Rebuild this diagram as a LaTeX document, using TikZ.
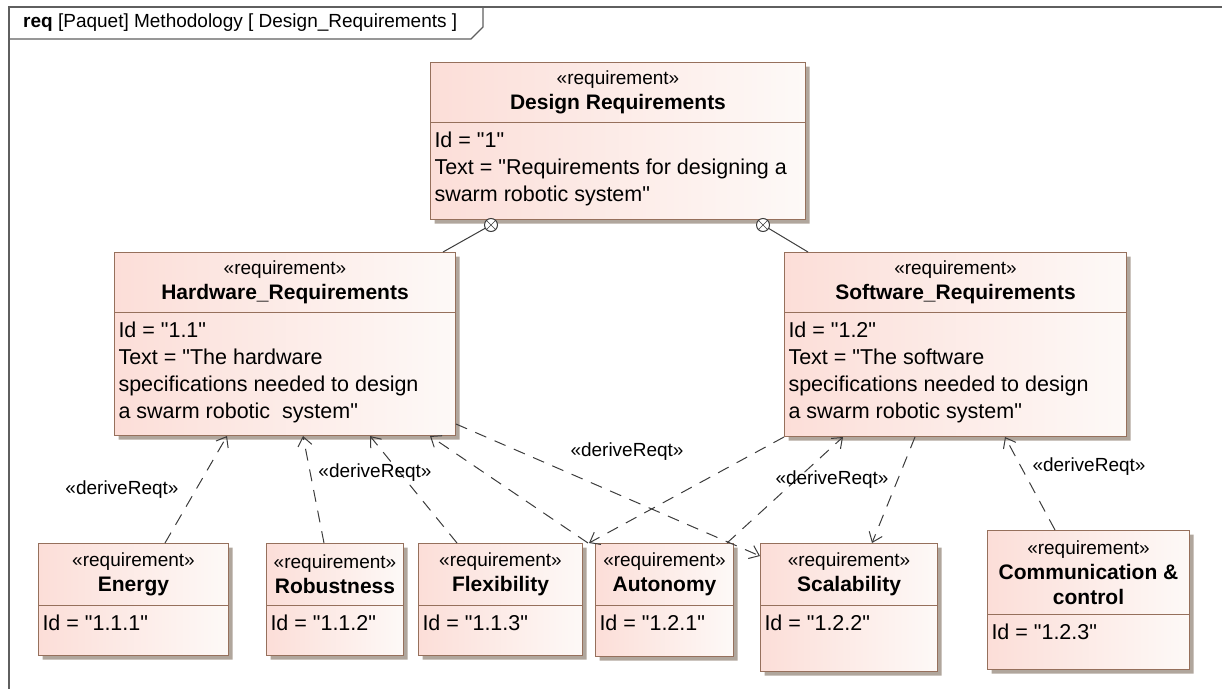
\documentclass[tikz,border=0pt]{standalone}
\usepackage{fontspec}
\setmainfont{Liberation Sans}[Ligatures=TeXOff]
\usetikzlibrary{shapes,shadows,arrows.meta}

\definecolor{reqpink}{RGB}{252,222,216}
\definecolor{reqwhite}{RGB}{253,249,247}
\definecolor{reqedge}{RGB}{150,112,92}
\definecolor{reqshadow}{RGB}{176,166,156}
\definecolor{lineg}{RGB}{60,60,60}
\definecolor{frameg}{RGB}{95,95,95}

% header part: width, height, name
\newcommand{\reqhead}[3]{\parbox[c][#2][c]{#1}{\centering\fontsize{19}{25}\selectfont «requirement»\\\fontsize{21}{25}\selectfont\bfseries #3}}
% body part: width, height, lines
\newcommand{\reqbody}[3]{\parbox[c][#2][t]{#1}{\vspace*{9pt}\raggedright\leftskip=4pt\fontsize{21.5}{27}\selectfont #3}}

\begin{document}
\begin{tikzpicture}[x=1pt,y=-1pt,>={Straight Barb[length=9pt,width=14pt]}]
\tikzstyle{req}=[
  rectangle split,
  rectangle split parts=2,
  draw=reqedge, line width=1pt,
  inner sep=0pt, anchor=north west,
  left color=reqpink, right color=reqwhite,
  drop shadow={shadow xshift=4pt, shadow yshift=-4pt, fill=reqshadow, opacity=1} ]
\tikzstyle{derive}=[draw=lineg, line width=1pt, dash pattern=on 12pt off 9pt, ->]
\tikzstyle{lbl}=[inner sep=0pt, font=\fontsize{19}{19}\selectfont]
\tikzstyle{contain}=[circle, draw=lineg, line width=1pt, fill=white, inner sep=0pt, minimum size=13pt]
\useasboundingbox (0,0) rectangle (1222,688);

% frame
\draw[frameg, line width=1.5pt] (9,700) -- (9,7) -- (1230,7);
\draw[frameg, line width=1.2pt] (9,39) -- (471,39) -- (483,27) -- (483,7);
\node[anchor=west, inner sep=0pt, font=\fontsize{19}{19}\selectfont] (title) at (23,23)
  {\textbf{req} [Paquet] Methodology [ Design\_Requirements ]};

% requirements
\node[req] (dsgn) at (430,62) {\reqhead{375pt}{59pt}{Design Requirements}\nodepart{two}\reqbody{375pt}{96pt}{Id = "1"\\Text = "Requirements for designing a\\swarm robotic system"}};
\node[req] (hw) at (114,252) {\reqhead{341pt}{59pt}{Hardware\_Requirements}\nodepart{two}\reqbody{341pt}{122pt}{Id = "1.1"\\Text = "The hardware\\specifications needed to design\\a swarm robotic\ \ system"}};
\node[req] (sw) at (784,252) {\reqhead{342pt}{59pt}{Software\_Requirements}\nodepart{two}\reqbody{342pt}{123pt}{Id = "1.2"\\Text = "The software\\specifications needed to design\\a swarm robotic system"}};
\node[req] (en) at (38,543) {\reqhead{190pt}{61pt}{Energy}\nodepart{two}\reqbody{190pt}{49pt}{Id = "1.1.1"}};
\node[req] (rb) at (266,543) {\reqhead{137pt}{61pt}{Robustness}\nodepart{two}\reqbody{137pt}{49pt}{Id = "1.1.2"}};
\node[req] (fx) at (418,543) {\reqhead{164pt}{61pt}{Flexibility}\nodepart{two}\reqbody{164pt}{49pt}{Id = "1.1.3"}};
\node[req] (au) at (595,543) {\reqhead{138pt}{61pt}{Autonomy}\nodepart{two}\reqbody{138pt}{50pt}{Id = "1.2.1"}};
\node[req] (sc) at (760,543) {\reqhead{177pt}{61pt}{Scalability}\nodepart{two}\reqbody{177pt}{65pt}{Id = "1.2.2"}};
\node[req] (cm) at (987,530) {\reqhead{202pt}{83pt}{Communication \&\\control}\nodepart{two}\reqbody{202pt}{54pt}{Id = "1.2.3"}};

% containment
\node[contain] (c1) at ([xshift=61pt,yshift=-5pt]dsgn.south west) {};
\node[contain] (c2) at ([xshift=333pt,yshift=-5pt]dsgn.south west) {};
\draw[lineg] (c1.45) -- (c1.225) (c1.135) -- (c1.315);
\draw[lineg] (c2.45) -- (c2.225) (c2.135) -- (c2.315);
\draw[lineg, line width=1pt] (c1) -- ([xshift=-13pt]hw.north east);
\draw[lineg, line width=1pt] (c2) -- ([xshift=24pt]sw.north west);

% deriveReqt
\draw[derive] ([xshift=127pt]en.north west) -- ([xshift=113pt]hw.south west);
\draw[derive] ([xshift=58pt]rb.north west) -- ([xshift=189pt]hw.south west);
\draw[derive] ([xshift=39pt]fx.north west) -- ([xshift=256pt]hw.south west);
\draw[derive] ([xshift=-7pt]au.north west) -- ([xshift=316pt]hw.south west);
\draw[derive] ([yshift=12pt]hw.south east) -- ([yshift=-13pt]sc.north west);
\draw[derive] (sw.south west) -- ([xshift=6pt]fx.north east);
\draw[derive] ([xshift=132pt]au.north west) -- ([xshift=59pt]sw.south west);
\draw[derive] ([xshift=131pt]sw.south west) -- ([xshift=112pt]sc.north west);
\draw[derive] ([xshift=68pt]cm.north west) -- ([xshift=221pt]sw.south west);

\node[lbl] (d1) at (122,490) {«deriveReqt»};
\node[lbl] (d2) at (375,473) {«deriveReqt»};
\node[lbl] (d3) at (627,452) {«deriveReqt»};
\node[lbl] (d4) at (832,480) {«deriveReqt»};
\node[lbl] (d5) at (1089,467) {«deriveReqt»};
\end{tikzpicture}
\end{document}
